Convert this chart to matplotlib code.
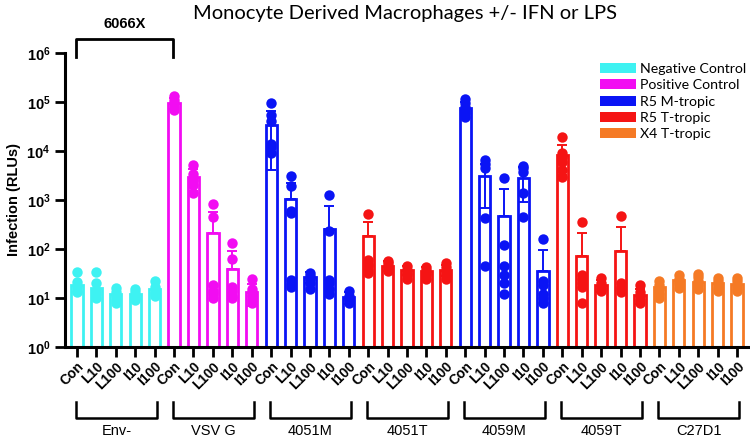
import matplotlib
matplotlib.use("Agg")
import matplotlib.pyplot as plt
import matplotlib.transforms as mtransforms
from matplotlib.patches import Patch
import numpy as np

plt.rcParams["font.family"] = ["Liberation Sans", "DejaVu Sans"]
plt.rcParams["mathtext.fontset"] = "custom"
plt.rcParams["mathtext.bf"] = "Liberation Sans:bold"
plt.rcParams["mathtext.rm"] = "Liberation Sans:bold"
plt.rcParams["mathtext.default"] = "bf"

# ---- data ----
groups = ["Env-", "VSV G", "4051M", "4051T", "4059M", "4059T", "C27D1"]
treatments = ["Con", "L10", "L100", "I10", "I100"]
group_kind = ["Negative Control", "Positive Control", "R5 M-tropic", "R5 T-tropic",
              "R5 M-tropic", "R5 T-tropic", "X4 T-tropic"]

env_mean = [18, 16, 12, 12, 15]
env_sd = [0, 0, 0, 0, 0]
env_pts = [[34, 21, 17, 14, 13], [34, 20, 14, 12, 10], [16, 13, 11, 9, 8],
           [15, 13, 11, 10, 9], [22, 17, 13, 12, 11]]

vsv_mean = [97000, 2900, 210, 39, 13]
vsv_sd = [25000, 1400, 360, 52, 6]
vsv_pts = [[130000, 110000, 95000, 80000, 70000], [5100, 3400, 2600, 2000, 1400],
           [830, 460, 18, 14, 12, 10], [133, 63, 17, 14, 11, 10], [24, 15, 13, 11, 9, 8]]

m4051_mean = [34000, 1050, 27, 255, 10.5]
m4051_sd = [30000, 1200, 7, 500, 3]
m4051_pts = [[95000, 55000, 40000, 14000, 12000, 9000], [3100, 1950, 600, 540, 23, 19, 17],
             [32, 28, 25, 20, 15], [1250, 230, 23, 20, 15, 12], [14, 11, 10, 9, 8]]

t4051_mean = [185, 46, 37, 35, 38]
t4051_sd = [170, 10, 8, 7, 10]
t4051_pts = [[520, 60, 50, 45, 38, 33], [58, 52, 45, 40, 35], [45, 38, 33, 30, 25],
             [42, 38, 33, 29, 25], [52, 42, 35, 30, 25]]

m4059_mean = [76000, 3100, 470, 2800, 36]
m4059_sd = [25000, 2400, 1180, 1900, 59]
m4059_pts = [[115000, 95000, 80000, 70000, 60000, 50000], [6400, 5400, 4500, 430, 45],
             [2800, 120, 45, 30, 20, 12], [5000, 4400, 3800, 1400, 450],
             [160, 22, 18, 12, 10, 8]]

t4059_mean = [8300, 72, 18, 91, 11.5]
t4059_sd = [5000, 140, 5, 190, 4]
t4059_pts = [[19000, 9000, 7500, 6000, 4000, 3000], [350, 30, 25, 20, 17, 8],
             [26, 20, 17, 15, 14], [480, 20, 17, 15, 13], [18, 13, 11, 9, 8]]

c27_mean = [17, 23, 21, 20, 19]
c27_sd = [0, 0, 0, 0, 0]
c27_pts = [[22, 18, 15, 12, 10], [29, 25, 22, 19, 16], [31, 27, 22, 18, 15],
           [26, 22, 19, 16, 14], [26, 22, 18, 16, 14]]

means = [env_mean, vsv_mean, m4051_mean, t4051_mean, m4059_mean, t4059_mean, c27_mean]
sds = [env_sd, vsv_sd, m4051_sd, t4051_sd, m4059_sd, t4059_sd, c27_sd]
points = [env_pts, vsv_pts, m4051_pts, t4051_pts, m4059_pts, t4059_pts, c27_pts]

colors = {
    "Negative Control": "#3EF2F2",
    "Positive Control": "#F20CF2",
    "R5 M-tropic": "#0A14F5",
    "R5 T-tropic": "#F51414",
    "X4 T-tropic": "#F57A25",
}

fig = plt.figure(figsize=(7.5, 4.38), dpi=100)
ax = fig.add_axes([65 / 750, 1 - 347 / 438, 1 - 65 / 750, 294 / 438])

pos = 0
tick_labels = []
for g, name in enumerate(groups):
    c = colors[group_kind[g]]
    for t in range(len(treatments)):
        m = means[g][t]
        sd = sds[g][t]
        ax.bar(pos, m - 1, bottom=1, width=0.58, facecolor="white", edgecolor=c,
               linewidth=2.0, zorder=2)
        if sd > 0:
            # lower whisker only shows when it stays well above the axis floor
            lo = sd if m - sd > 0.1 * m else 0
            ax.errorbar(pos, m, yerr=[[lo], [sd]], fmt="none", ecolor=c,
                        elinewidth=1.4, capsize=3.5, capthick=1.4, zorder=3)
        pts = points[g][t]
        ax.plot([pos] * len(pts), pts, "o", color=c, markersize=7.5,
                markeredgewidth=0, zorder=4)
        tick_labels.append(treatments[t])
        pos += 1

ax.set_yscale("log")
ax.set_ylim(1, 1e6)
ax.set_xlim(-0.62, 34.67)
ax.set_yticks([10.0 ** k for k in range(7)])
ax.set_yticklabels([r"$10^{%d}$" % k for k in range(7)], fontsize=10.5)
ax.yaxis.set_minor_locator(matplotlib.ticker.NullLocator())
ax.set_xticks(np.arange(pos))
ax.set_xticklabels(tick_labels, rotation=45, ha="right", rotation_mode="anchor",
                   fontsize=10, fontweight="bold")
ax.tick_params(axis="both", width=2, length=7, direction="out")
ax.tick_params(axis="x", pad=2)
for s in ["top", "right"]:
    ax.spines[s].set_visible(False)
for s in ["left", "bottom"]:
    ax.spines[s].set_linewidth(2.2)
ax.set_ylabel("Infection (RLUs)", fontsize=10.5, fontweight="bold", labelpad=4)

# group brackets below the axis
trans = mtransforms.blended_transform_factory(ax.transData, ax.transAxes)
for g, name in enumerate(groups):
    x0 = g * 5 - 0.05
    x1 = g * 5 + 4.1
    ax.plot([x0, x0, x1, x1], [-0.187, -0.241, -0.241, -0.187], color="black",
            linewidth=1.8, transform=trans, clip_on=False)
    ax.text((x0 + x1) / 2, -0.262, name, transform=trans, ha="center", va="top",
            fontsize=10.5)

# 6066X bracket on top
ax.plot([-0.05, -0.05, 4.95, 4.95], [0.986, 1.048, 1.048, 0.986], color="black",
        linewidth=2, transform=trans, clip_on=False)
ax.text(2.45, 1.075, "6066X", transform=trans, ha="center", va="bottom",
        fontsize=10.5, fontweight="bold")

fig.text(405 / 750, 1 - 14 / 438, "Monocyte Derived Macrophages +/- IFN or LPS",
         ha="center", va="center", fontsize=14.5, family=["Lato", "DejaVu Sans"])

handles = [Patch(facecolor=colors[k], edgecolor="none", label=k) for k in colors]
leg = ax.legend(handles=handles, loc="upper left", bbox_to_anchor=(0.781, 0.965),
                frameon=False, borderaxespad=0, borderpad=0,
                handlelength=2.55, handleheight=0.7, handletextpad=0.3,
                labelspacing=0.29, prop={"family": ["Lato", "DejaVu Sans"], "size": 10.2})

fig.savefig("out.png", dpi=100)
